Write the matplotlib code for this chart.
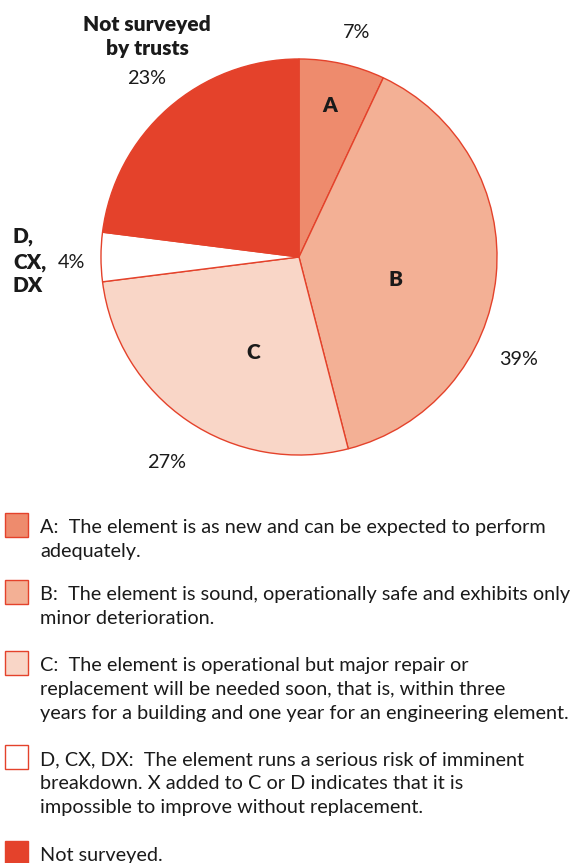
import matplotlib
matplotlib.use('Agg')
import matplotlib.pyplot as plt
from matplotlib.patches import Rectangle

plt.rcParams['font.family'] = ['Lato', 'DejaVu Sans']

# data
codes = ['A', 'B', 'C', 'D', 'NS']
shares = [7, 39, 27, 4, 23]
colours = ['#EE8B6D', '#F3B095', '#F9D6C7', '#FFFFFF', '#E4422B']
edge = '#E4422B'
legend_text = [
    'A:  The element is as new and can be expected to perform\nadequately.',
    'B:  The element is sound, operationally safe and exhibits only\nminor deterioration.',
    'C:  The element is operational but major repair or\nreplacement will be needed soon, that is, within three\nyears for a building and one year for an engineering element.',
    'D, CX, DX:  The element runs a serious risk of imminent\nbreakdown. X added to C or D indicates that it is\nimpossible to improve without replacement.',
    'Not surveyed.',
]

W, H = 573, 863
fig = plt.figure(figsize=(W / 100, H / 100), dpi=100)


def fx(x):
    return x / W


def fy(y):
    return 1 - y / H


# pie, centre (299, 257) px, radius 200 px
ax = fig.add_axes([fx(99), fy(457), 400 / W, 400 / H])
ax.pie(shares, colors=colours, startangle=90, counterclock=False,
       wedgeprops=dict(edgecolor=edge, linewidth=1.0), radius=1.0)
ax.set_xlim(-1.01, 1.01)
ax.set_ylim(-1.01, 1.01)
ax.set_aspect('equal')
ax.axis('off')

dark = '#1a1a1a'
fs = 14.3

# slice letters
for lab, (x, y) in zip(['A', 'B', 'C'], [(330, 106), (396, 279), (253, 352)]):
    fig.text(fx(x), fy(y), lab, ha='center', va='center', fontsize=15,
             fontweight='heavy', color=dark)

# percentage labels
pct = [f'{v}%' for v in shares]
fig.text(fx(357), fy(32), pct[0], ha='center', va='center', fontsize=fs, color=dark)
fig.text(fx(519), fy(359), pct[1], ha='center', va='center', fontsize=fs, color=dark)
fig.text(fx(167), fy(462), pct[2], ha='center', va='center', fontsize=fs, color=dark)
fig.text(fx(147), fy(79), pct[4], ha='center', va='center', fontsize=fs, color=dark)
fig.text(fx(147), fy(24), 'Not surveyed', ha='center', va='center',
         fontsize=15, fontweight='heavy', color=dark)
fig.text(fx(147), fy(49), 'by trusts', ha='center', va='center',
         fontsize=15, fontweight='heavy', color=dark)

# D, CX, DX label
fig.text(fx(13), fy(237), 'D,', ha='left', va='center', fontsize=15,
         fontweight='heavy', color=dark)
fig.text(fx(13), fy(262), 'CX,', ha='left', va='center', fontsize=15,
         fontweight='heavy', color=dark)
fig.text(fx(58), fy(262), pct[3], ha='left', va='center', fontsize=fs, color=dark)
fig.text(fx(13), fy(286), 'DX', ha='left', va='center', fontsize=15,
         fontweight='heavy', color=dark)

# legend
box_tops = [513, 580, 651, 745, 841]
for col, txt, top in zip(colours, legend_text, box_tops):
    fig.patches.append(Rectangle((fx(5), fy(top + 24)), 23 / W, 24 / H,
                                 transform=fig.transFigure, facecolor=col,
                                 edgecolor=edge, linewidth=1.0))
    fig.text(fx(40), fy(top + 6), txt, ha='left', va='top', fontsize=fs,
             color=dark, linespacing=1.5)

fig.savefig('out.png', dpi=100)
